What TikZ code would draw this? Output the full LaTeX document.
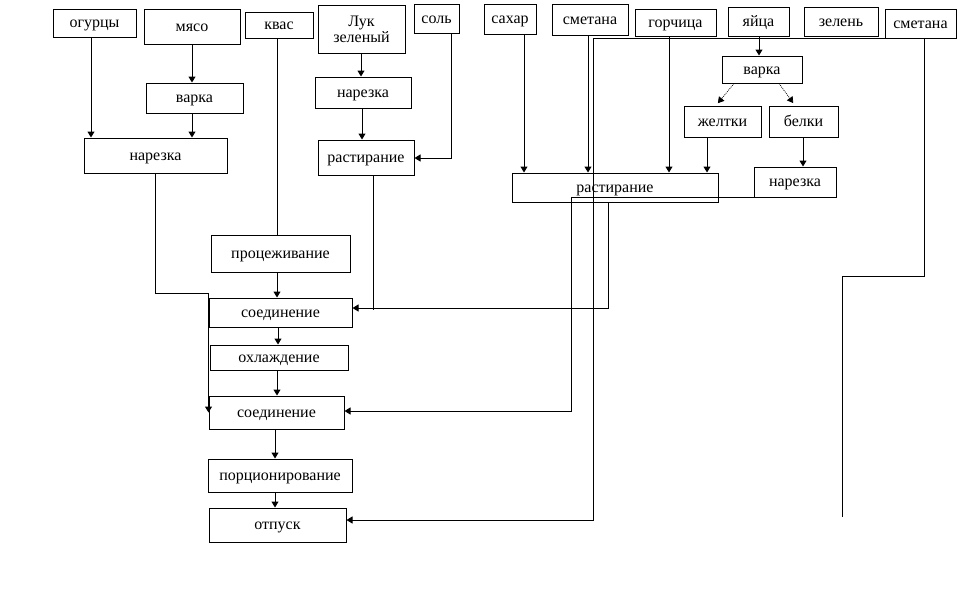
\documentclass[tikz,border=0pt]{standalone}
\usepackage{fontspec}
\setmainfont{Liberation Serif}
\usetikzlibrary{arrows.meta}
\begin{document}
\begin{tikzpicture}[x=1pt,y=-1pt,
  box/.style={draw, line width=1pt, inner sep=0pt, font=\fontsize{16}{18}\selectfont, text height=12pt, text depth=3pt},
  ln/.style={line width=1pt},
  arr/.style={line width=1pt, -{Triangle[width=7pt,length=6pt]}}]
\useasboundingbox (0,0) rectangle (966,606);
% boxes
\node[box, minimum width=83pt, minimum height=28pt] (ogur) at (94.5,23) {огурцы};
\node[box, minimum width=96pt, minimum height=35pt] (myaso) at (192,26.5) {мясо};
\node[box, minimum width=68pt, minimum height=26pt] (kvas) at (279,25) {квас};
\node[box, minimum width=87pt, minimum height=48pt, align=center, text height=, text depth=] (luk) at (361.5,29) {Лук\\[-2pt]зеленый};
\node[box, minimum width=45pt, minimum height=29pt] (sol) at (436.5,18.5) {соль};
\node[box, minimum width=52pt, minimum height=30pt] (sahar) at (510,19) {сахар};
\node[box, minimum width=76pt, minimum height=31pt] (smet1) at (590,19.5) {сметана};
\node[box, minimum width=81pt, minimum height=27pt] (gorch) at (675.5,22.5) {горчица};
\node[box, minimum width=61pt, minimum height=29pt] (yaica) at (758.5,21.5) {яйца};
\node[box, minimum width=74pt, minimum height=29pt] (zelen) at (841,21.5) {зелень};
\node[box, minimum width=71pt, minimum height=29pt] (smet2) at (920.5,23.5) {сметана};
\node[box, minimum width=97pt, minimum height=30pt] (varka1) at (194.5,98) {варка};
\node[box, minimum width=143pt, minimum height=35pt] (narez1) at (155.5,155.5) {нарезка};
\node[box, minimum width=96pt, minimum height=31pt] (narez2) at (363,92.5) {нарезка};
\node[box, minimum width=96pt, minimum height=35pt] (rast1) at (366,157.5) {растирание};
\node[box, minimum width=80pt, minimum height=27pt] (varka2) at (762,69.5) {варка};
\node[box, minimum width=77pt, minimum height=31pt] (zhelt) at (722.5,121.5) {желтки};
\node[box, minimum width=69pt, minimum height=31pt] (belki) at (803.5,121.5) {белки};
\node[box, minimum width=82pt, minimum height=30pt] (narez3) at (795,182) {нарезка};
\node[box, minimum width=206pt, minimum height=29pt] (rast2) at (615,187.5) {растирание};
\node[box, minimum width=139pt, minimum height=37pt] (proc) at (280.5,253.5) {процеживание};
\node[box, minimum width=143pt, minimum height=29pt] (soed1) at (280.5,312.5) {соединение};
\node[box, minimum width=138pt, minimum height=25pt] (ohl) at (279,357.5) {охлаждение};
\node[box, minimum width=135pt, minimum height=33pt] (soed2) at (276.5,412.5) {соединение};
\node[box, minimum width=144pt, minimum height=33pt] (porc) at (280,475.5) {порционирование};
\node[box, minimum width=137pt, minimum height=34pt] (otp) at (277.5,525) {отпуск};
% free ends
\coordinate (rastjoin) at (373,310);
\coordinate (smetend) at (842,517);
% connectors
\draw[arr] (91,0 |- ogur.south) -- (91,0 |- narez1.north);
\draw[arr] (192,0 |- myaso.south) -- (192,0 |- varka1.north);
\draw[arr] (192,0 |- varka1.south) -- (192,0 |- narez1.north);
\draw[ln] (277,0 |- kvas.south) -- (277,0 |- proc.north);
\draw[arr] (361,0 |- luk.south) -- (361,0 |- narez2.north);
\draw[arr] (362,0 |- narez2.south) -- (362,0 |- rast1.north);
\draw[arr] (451,0 |- sol.south) -- (451,158) -- (rast1.east |- 0,158);
\draw[arr] (524,0 |- sahar.south) -- (524,0 |- rast2.north);
\draw[arr] (588,0 |- smet1.south) -- (588,0 |- rast2.north);
\draw[arr] (669,0 |- gorch.south) -- (669,0 |- rast2.north);
\draw[arr] (759,0 |- yaica.south) -- (759,0 |- varka2.north);
\draw[arr, densely dotted, line width=0.7pt, shorten >=3pt] (734,0 |- varka2.south) -- (716,0 |- zhelt.north);
\draw[arr, densely dotted, line width=0.7pt, shorten >=3pt] (779,0 |- varka2.south) -- (795,0 |- belki.north);
\draw[arr] (707,0 |- zhelt.south) -- (707,0 |- rast2.north);
\draw[arr] (803,0 |- belki.south) -- (803,0 |- narez3.north);
\draw[arr] (smet2.south west) -- (593,0 |- smet2.south west) -- (593,520) -- (otp.east |- 0,520);
\draw[arr] (narez3.south west) -- (571,0 |- narez3.south west) -- (571,411) -- (soed2.east |- 0,411);
\draw[arr] (608,0 |- rast2.south) -- (608,308) -- (soed1.east |- 0,308);
\draw[ln] (373,0 |- rast1.south) -- (rastjoin);
\draw[arr] (155,0 |- narez1.south) -- (155,293) -- (soed2.west |- 0,293) -- (soed2.west);
\draw[arr] (277,0 |- proc.south) -- (277,0 |- soed1.north);
\draw[arr] (278,0 |- soed1.south) -- (278,0 |- ohl.north);
\draw[arr] (277,0 |- ohl.south) -- (277,0 |- soed2.north);
\draw[arr] (275,0 |- soed2.south) -- (275,0 |- porc.north);
\draw[arr] (275,0 |- porc.south) -- (275,0 |- otp.north);
\draw[ln] (924,0 |- smet2.south) -- (924,276) -- (842,276) -- (smetend);
\end{tikzpicture}
\end{document}
